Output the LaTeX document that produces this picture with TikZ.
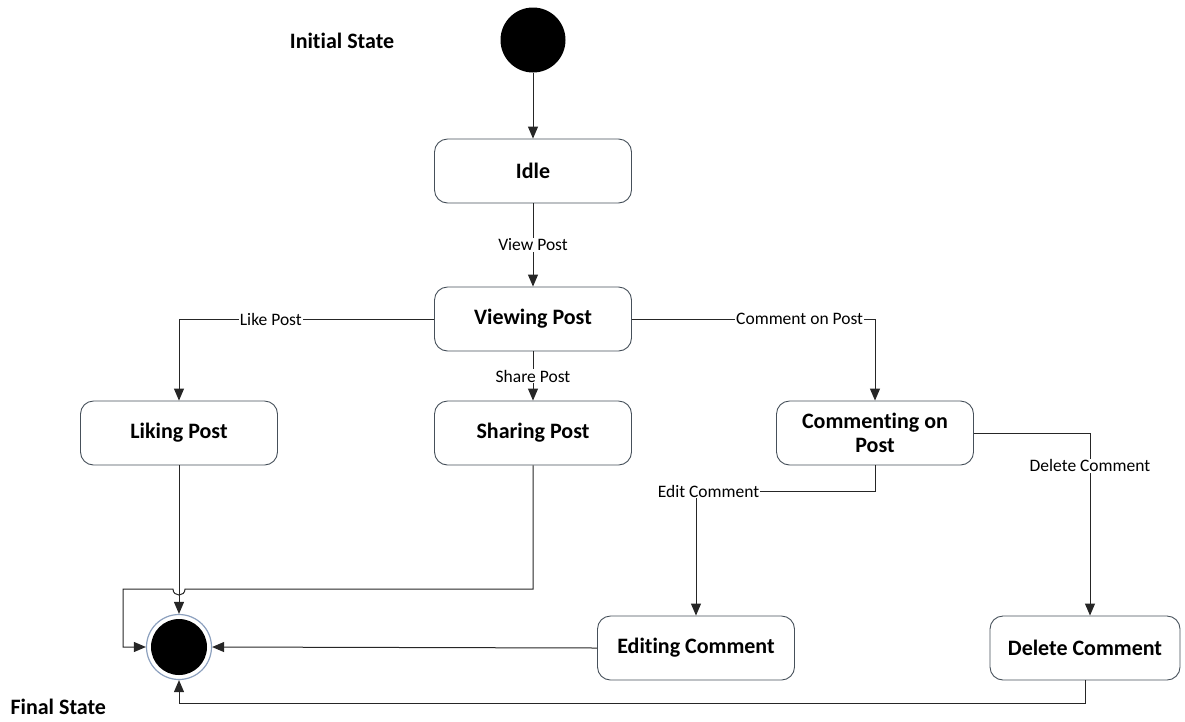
\documentclass[tikz,border=0pt]{standalone}
\usepackage{fontspec}
\setmainfont{Carlito}[Ligatures=NoCommon]
\usetikzlibrary{arrows.meta}
\definecolor{ringblue}{RGB}{140,160,190}
\definecolor{boxline}{RGB}{70,80,90}
\begin{document}
\begin{tikzpicture}[x=1pt,y=-1pt,
  state/.style={draw=boxline, line width=0.9pt, rounded corners=13pt, fill=white,
    minimum width=197pt, minimum height=64pt, align=center,
    font=\fontsize{22}{24}\selectfont\bfseries},
  plain/.style={font=\fontsize{22}{24}\selectfont\bfseries},
  lbl/.style={fill=white, inner sep=1pt, font=\fontsize{17.5}{19}\selectfont},
  conn/.style={draw=black!85, line width=1pt, -{Triangle[length=12pt,width=10pt]}}]
\useasboundingbox (0,0) rectangle (1185,721);

% start and end pseudo-states
\node[circle, fill=black, minimum size=65pt, inner sep=0pt] (init) at (533,40) {};
\node[circle, draw=ringblue, line width=1.2pt, fill=white,
      minimum size=65pt, inner sep=0pt] (final) at (179,647) {};
\fill[black] (final.center) circle[radius=28pt];

\node[plain] (initlbl) at (342,41) {Initial State};
\node[plain, anchor=west] (finallbl) at (7,707) {Final State};

% states
\node[state] (idle) at (533,171) {Idle};
\node[state] (view) at (533,319) {Viewing Post};
\node[state] (like) at (179,433) {Liking Post};
\node[state] (share) at (533,433) {Sharing Post};
\node[state] (comm) at (875,433) {Commenting on\\Post};
\node[state] (edit) at (696,648) {Editing Comment};
\node[state, minimum width=190pt] (del) at (1085,648) {Delete Comment};

% transitions
\draw[conn] (init) -- (idle);
\draw[conn] (idle) -- node[lbl] {View Post} (view);
\draw[conn] (view) -- node[lbl] {Share Post} (share);
\draw[conn] (view.west) -- node[lbl, pos=0.64] {Like Post} (like.north |- view.west) -- (like.north);
\draw[conn] (view.east) -- node[lbl, pos=0.69] {Comment on Post} (comm.north |- view.east) -- (comm.north);
\coordinate (ebend) at (comm.south |- 0,491);
\draw[conn] (comm.south) -- (ebend) -- node[lbl, pos=0.93] {Edit Comment} (edit.north |- ebend) -- (edit.north);
\coordinate (dbend) at (1090,433);
\draw[conn] (comm.east |- dbend) -- (dbend) -- node[lbl, pos=0.18] {Delete Comment} (dbend |- del.north);
\draw[conn] (like.south) -- (final.north);
\coordinate (hop) at (final.center |- 0,589);
\draw[conn] (share.south) -- (share.south |- hop) -- ([xshift=6pt]hop)
  .. controls ([xshift=6pt,yshift=-8pt]hop) and ([xshift=-6pt,yshift=-8pt]hop) .. ([xshift=-6pt]hop)
  -- (123,589) -- (123,647) -- (final.west);
\draw[conn] (edit.west) -- (final.east);
\draw[conn] (del.south) -- (del.south |- 0,703) -- (final.south |- 0,703) -- (final.south);
\end{tikzpicture}
\end{document}
